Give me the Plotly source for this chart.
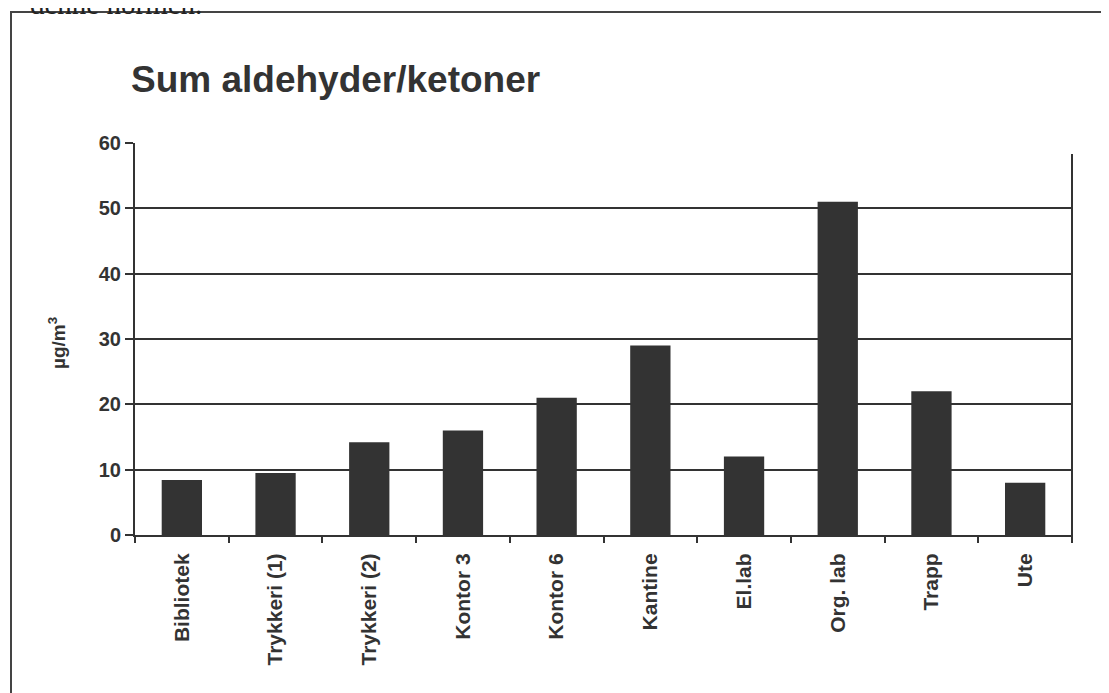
import plotly.graph_objects as go

categories = ["Bibliotek", "Trykkeri (1)", "Trykkeri (2)", "Kontor 3", "Kontor 6",
              "Kantine", "El.lab", "Org. lab", "Trapp", "Ute"]
values = [8.4, 9.5, 14.2, 16.0, 21.0, 29.0, 12.0, 51.0, 22.0, 8.0]
y_ticks = [0, 10, 20, 30, 40, 50, 60]

OFF = 8  # page body margin
W, H = 1109 - OFF, 693 - OFF
# plot area in reference pixel coords
L, R, T, B = 135, 1072, 143, 535

def px_x(px):
    return (px - L) / (R - L)

def px_y(py):
    return (B - py) / (B - T)

fig = go.Figure(go.Bar(
    x=categories, y=values,
    marker=dict(color="#333333", line=dict(width=0)),
    width=0.43,
))

dark = "#333333"
FONT = "Liberation Sans, Arial, sans-serif"
fig.update_layout(
    width=W, height=H,
    margin=dict(l=L - OFF, r=W - (R - OFF), t=T - OFF, b=H - (B - OFF)),
    plot_bgcolor="white", paper_bgcolor="white",
    showlegend=False,
    font=dict(family=FONT, color=dark),
    xaxis=dict(
        showgrid=False, showline=True, linecolor=dark, linewidth=2,
        ticks="outside", tickson="boundaries", ticklen=6, tickwidth=2, tickcolor=dark,
        tickangle=-90, tickfont=dict(size=21, family=FONT, weight="bold"),
        ticklabelstandoff=8,
        range=[-0.5, 9.5], fixedrange=True,
    ),
    yaxis=dict(
        range=[0, 60], tickvals=y_ticks, showgrid=True, gridcolor=dark, gridwidth=2,
        showline=True, linecolor=dark, linewidth=2,
        ticks="outside", ticklen=8, tickwidth=2, tickcolor=dark,
        tickfont=dict(size=20, family=FONT, weight="bold"), zeroline=False,
    ),
)

# Y axis title
fig.add_annotation(
    text="<b>µg/m<sup>3</sup></b>", xref="paper", yref="paper",
    x=px_x(57), y=px_y(343), xanchor="center", yanchor="middle", textangle=-90,
    showarrow=False, font=dict(size=19, color=dark, family=FONT),
)

# Chart title
fig.add_annotation(
    text="<b>Sum aldehyder/ketoner</b>", xref="paper", yref="paper",
    x=px_x(129), y=px_y(80), xanchor="left", yanchor="middle", showarrow=False,
    font=dict(size=37, color=dark, family=FONT),
)

# Right partial vertical line
fig.add_shape(type="line", xref="paper", yref="paper",
              x0=1, x1=1, y0=px_y(541), y1=px_y(154),
              line=dict(color=dark, width=2))

# Outer frame
fig.add_shape(type="rect", xref="paper", yref="paper",
              x0=px_x(11), x1=px_x(1125), y0=px_y(710), y1=px_y(12),
              line=dict(color="#444444", width=2), fillcolor="rgba(0,0,0,0)", layer="below")

# Cut-off text of the page above the frame
fig.add_annotation(
    text="denne normen.", xref="paper", yref="paper",
    x=px_x(28), y=px_y(22), xanchor="left", yanchor="bottom", showarrow=False,
    font=dict(size=29, color="#222222", family="Liberation Serif, Times New Roman, serif"),
)

fig.write_html("out.html")
